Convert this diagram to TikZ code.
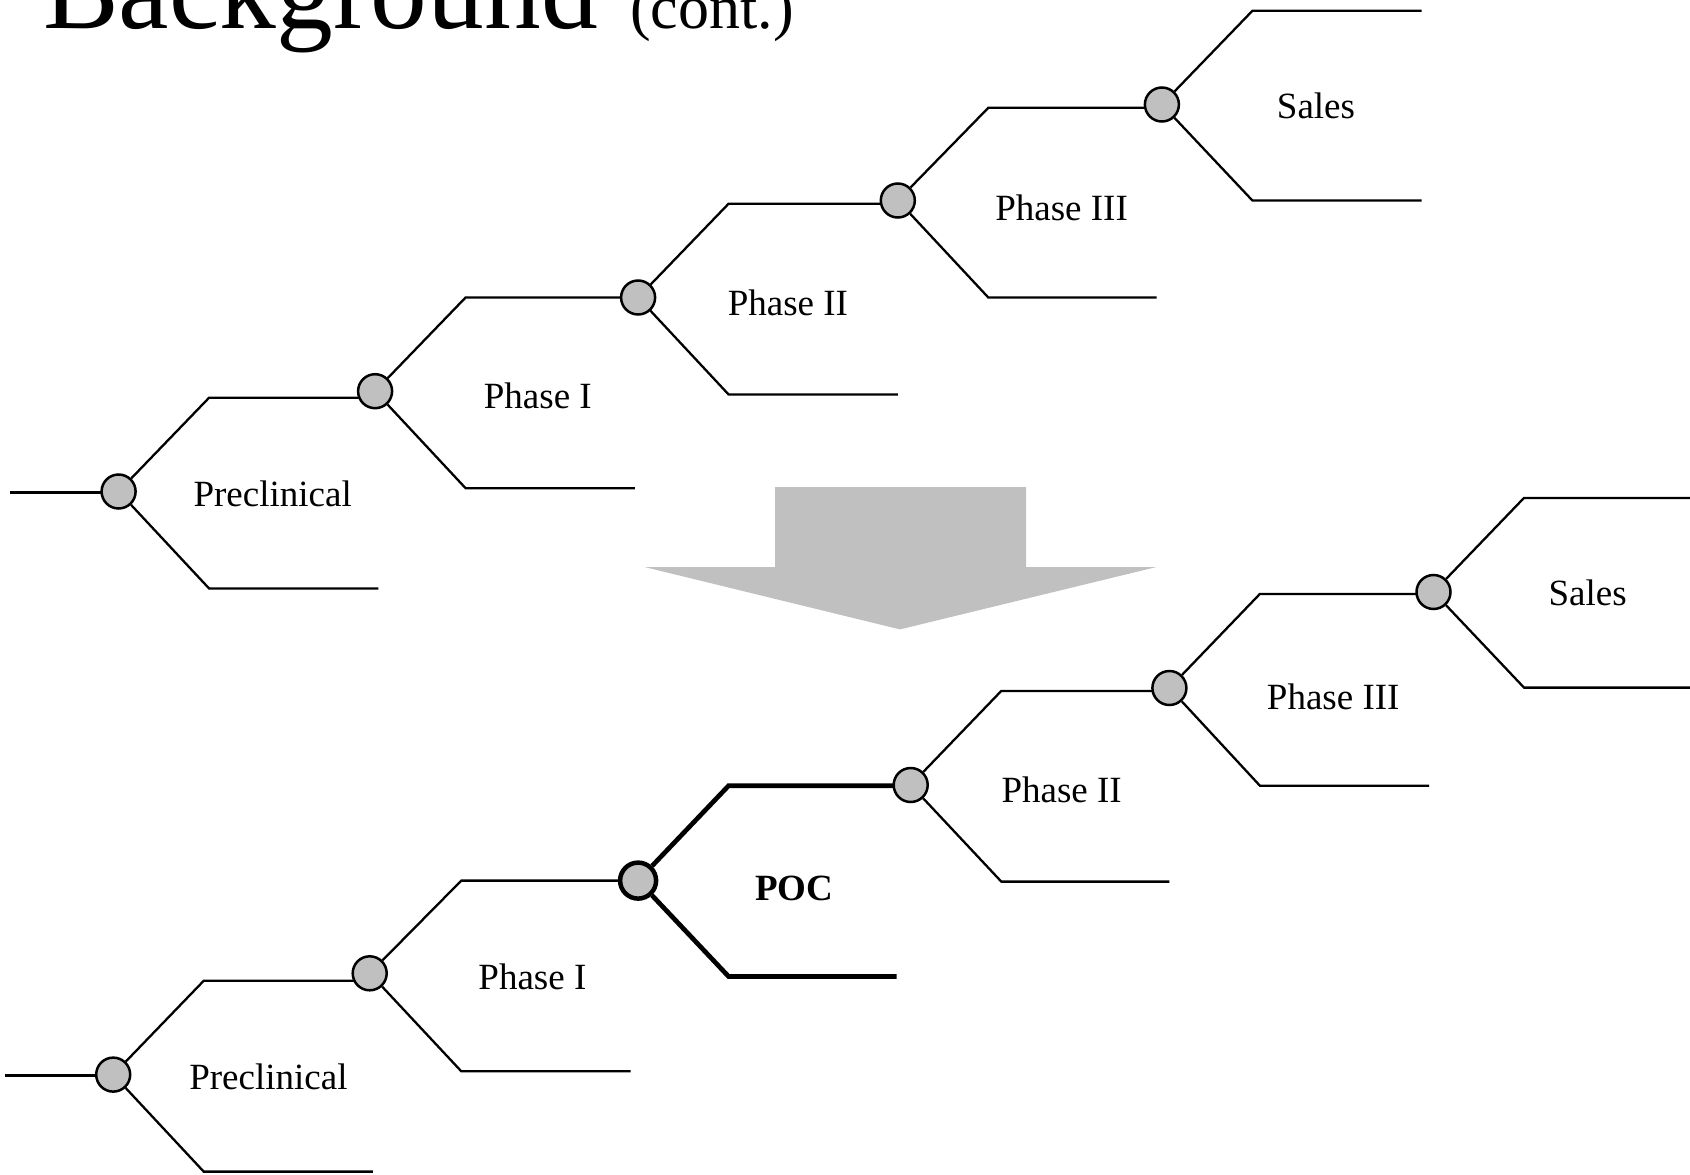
\documentclass[tikz,border=0pt]{standalone}
\usepackage{fontspec}
\setmainfont{Liberation Serif}
\usetikzlibrary{backgrounds}
\definecolor{nodegray}{RGB}{192,192,192}
\begin{document}
\begin{tikzpicture}[x=1pt,y=-1pt,
  dec/.style={circle,draw=black,fill=nodegray,line width=2.5pt,minimum size=34pt,inner sep=0pt},
  decbold/.style={dec,line width=4.5pt,minimum size=36pt},
  br/.style={draw=black,line width=2.3pt},
  brbold/.style={draw=black,line width=4.7pt},
  lab/.style={anchor=base,inner sep=0pt,font=\fontsize{37}{44}\selectfont},
  bigarrow/.style={fill=nodegray}
]
\useasboundingbox (0,0) rectangle (1690,1175);

% title
\node[anchor=base west,inner sep=0pt,font=\fontsize{113.5}{120}\selectfont] (title) at (43,28) {Background};
\node[anchor=base west,inner sep=0pt,font=\fontsize{62}{70}\selectfont] (cont) at (630,28) {(cont.)};

% ---------- top tree ----------
\node[dec] (a1) at (118.6,491.5) {};
\node[dec] (a2) at (375.1,391.2) {};
\node[dec] (a3) at (638.1,297.5) {};
\node[dec] (a4) at (897.8,200.5) {};
\node[dec] (a5) at (1161.9,104.5) {};

\coordinate (a0) at (9.7,492.5);
\coordinate (au1) at (209.1,397.7); \coordinate (al1) at (209.1,588.5); \coordinate (ae1) at (378.3,588.5);
\coordinate (au2) at (465.6,297.5); \coordinate (al2) at (465.6,488.2); \coordinate (ae2) at (634.8,488.2);
\coordinate (au3) at (728.6,203.7); \coordinate (al3) at (728.6,394.5); \coordinate (ae3) at (897.8,394.5);
\coordinate (au4) at (988.3,107.8); \coordinate (al4) at (988.3,297.5); \coordinate (ae4) at (1156.5,297.5);
\coordinate (au5) at (1252.4,10.8); \coordinate (aue5) at (1421.6,10.8);
\coordinate (al5) at (1252.4,200.5); \coordinate (ae5) at (1421.6,200.5);

\node[lab] (ta1) at (272.7,506) {Preclinical};
\node[lab] (ta2) at (537.8,408) {Phase I};
\node[lab] (ta3) at (787.9,315) {Phase II};
\node[lab] (ta4) at (1061.6,220) {Phase III};
\node[lab] (ta5) at (1316,118) {Sales};

% ---------- bottom tree ----------
\node[dec] (b1) at (113.2,1074.6) {};
\node[dec] (b2) at (369.7,973.3) {};
\node[decbold] (b3) at (638.1,880.6) {};
\node[dec] (b4) at (910.7,785) {};
\node[dec] (b5) at (1169.4,688) {};
\node[dec] (b6) at (1433.5,592) {};

\coordinate (b0) at (5.4,1075.6);
\coordinate (bu1) at (203.7,980.8); \coordinate (bl1) at (203.7,1171.6); \coordinate (be1) at (372.9,1171.6);
\coordinate (bu2) at (461.3,880.6); \coordinate (bl2) at (461.3,1071.3); \coordinate (be2) at (630.5,1071.3);
\coordinate (bu3) at (728.6,785.7); \coordinate (bl3) at (728.6,976.5); \coordinate (be3) at (896.7,976.5);
\coordinate (bu4) at (1001.3,690.9); \coordinate (bl4) at (1001.3,881.6); \coordinate (be4) at (1169.4,881.6);
\coordinate (bu5) at (1259.9,593.9); \coordinate (bl5) at (1259.9,785.7); \coordinate (be5) at (1429.2,785.7);
\coordinate (bu6) at (1524,497.9); \coordinate (bue6) at (1690,497.9);
\coordinate (bl6) at (1524,687.6); \coordinate (be6) at (1690,687.6);

\node[lab] (tb1) at (268.4,1089) {Preclinical};
\node[lab] (tb2) at (532.4,989) {Phase I};
\node[lab,font=\fontsize{37}{44}\selectfont\bfseries] (tb3) at (794.3,900) {POC};
\node[lab] (tb4) at (1061.6,802) {Phase II};
\node[lab] (tb5) at (1333.2,709) {Phase III};
\node[lab] (tb6) at (1587.6,605) {Sales};

% big arrow
\fill[bigarrow] (775,487) -- (1026,487) -- (1026,567) -- (1156.5,567) -- (900,629.4)
  -- (644.5,567) -- (775,567) -- cycle;

\begin{pgfonlayer}{background}
  % top tree branches
  \draw[br] (a0) -- (a0 -| a1);
  \draw[br] (a1) -- (au1) -- (au1 -| a2);
  \draw[br] (a1) -- (al1) -- (ae1);
  \draw[br] (a2) -- (au2) -- (au2 -| a3);
  \draw[br] (a2) -- (al2) -- (ae2);
  \draw[br] (a3) -- (au3) -- (au3 -| a4);
  \draw[br] (a3) -- (al3) -- (ae3);
  \draw[br] (a4) -- (au4) -- (au4 -| a5);
  \draw[br] (a4) -- (al4) -- (ae4);
  \draw[br] (a5) -- (au5) -- (aue5);
  \draw[br] (a5) -- (al5) -- (ae5);
  % bottom tree branches
  \draw[br] (b0) -- (b0 -| b1);
  \draw[br] (b1) -- (bu1) -- (bu1 -| b2);
  \draw[br] (b1) -- (bl1) -- (be1);
  \draw[br] (b2) -- (bu2) -- (bu2 -| b3);
  \draw[br] (b2) -- (bl2) -- (be2);
  \draw[brbold] (b3) -- (bu3) -- (bu3 -| b4);
  \draw[brbold] (b3) -- (bl3) -- (be3);
  \draw[br] (b4) -- (bu4) -- (bu4 -| b5);
  \draw[br] (b4) -- (bl4) -- (be4);
  \draw[br] (b5) -- (bu5) -- (bu5 -| b6);
  \draw[br] (b5) -- (bl5) -- (be5);
  \draw[br] (b6) -- (bu6) -- (bue6);
  \draw[br] (b6) -- (bl6) -- (be6);
\end{pgfonlayer}
\end{tikzpicture}
\end{document}
